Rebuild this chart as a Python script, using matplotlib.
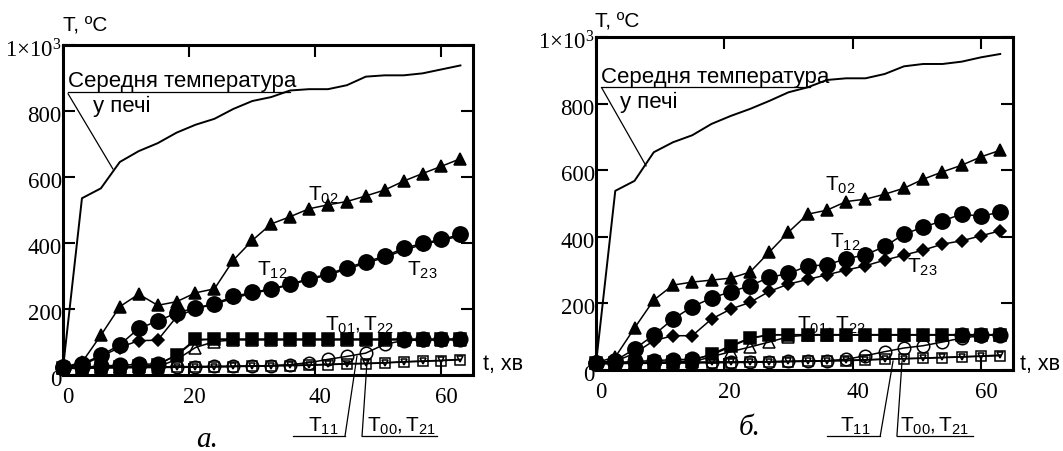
import matplotlib.pyplot as plt
from matplotlib.transforms import ScaledTranslation

plt.rcParams['font.family'] = 'Liberation Serif'
plt.rcParams['mathtext.fontset'] = 'custom'
plt.rcParams['mathtext.rm'] = 'Liberation Serif'
plt.rcParams['mathtext.sf'] = 'Liberation Sans'
plt.rcParams['mathtext.it'] = 'Liberation Serif:italic'

# time, min
t_min = [0, 3, 6, 9, 12, 15, 18, 21, 24, 27, 30, 33, 36, 39, 42, 45, 48, 51, 54, 57, 60, 63]

# --- panel a ---
furnace_a = [20, 535, 565, 645, 678, 702, 734, 758, 776, 806, 830, 842, 862, 866, 866, 878, 904, 908, 908, 914, 926, 938]
T02_a = [22, 37, 119, 206, 244, 210, 221, 248, 260, 347, 407, 457, 479, 503, 515, 525, 542, 560, 587, 610, 632, 655]
T12_a = [22, 32, 58, 90, 140, 162, 187, 202, 215, 237, 249, 260, 274, 291, 305, 324, 342, 359, 383, 398, 410, 425]
T23_a = [22, 28, 55, 82, 103, 104, 175, 200, 213, 232, 246, 258, 272, 288, 302, 320, 338, 355, 378, 394, 408, 420]
T01_a = [20, 22, 22, 24, 25, 28, 60, 107, 107, 107, 107, 107, 107, 107, 107, 107, 107, 107, 107, 107, 107, 107]
T20_a = [20, 22, 26, 28, 31, 32, 58, 104, 107, 107, 107, 107, 107, 107, 107, 107, 107, 107, 107, 107, 107, 107]
T10_a = [20, 21, 22, 22, 23, 24, 45, 82, 100, 105, 105, 105, 105, 105, 105, 105, 105, 105, 105, 105, 105, 105]
T11_a = [20, 21, 22, 22, 23, 23, 24, 24, 25, 25, 26, 27, 30, 36, 46, 55, 65, 92, 103, 105, 106, 107]
T00_a = [18, 19, 20, 20, 21, 21, 22, 22, 23, 24, 25, 26, 27, 28, 30, 32, 33, 35, 38, 40, 42, 45]
T21_a = [20, 20, 21, 22, 22, 23, 23, 24, 24, 25, 26, 27, 28, 29, 31, 33, 34, 36, 39, 41, 43, 46]

# --- panel b ---
furnace_b = [20, 538, 568, 654, 684, 705, 739, 763, 784, 808, 834, 849, 871, 876, 876, 889, 912, 919, 919, 926, 939, 949]
T02_b = [22, 39, 126, 210, 255, 264, 270, 276, 294, 354, 414, 468, 480, 506, 513, 528, 546, 573, 595, 615, 640, 660]
T12_b = [22, 28, 63, 105, 153, 190, 216, 235, 253, 278, 290, 312, 316, 334, 346, 371, 408, 429, 448, 468, 462, 474]
T23_b = [22, 26, 50, 88, 103, 103, 153, 183, 203, 236, 258, 272, 286, 300, 313, 330, 345, 360, 378, 388, 403, 418]
T01_b = [20, 22, 22, 23, 24, 28, 48, 73, 96, 106, 106, 106, 106, 106, 106, 106, 106, 106, 106, 106, 106, 106]
T20_b = [20, 22, 26, 28, 31, 32, 45, 70, 95, 105, 106, 106, 106, 106, 106, 106, 106, 106, 106, 106, 106, 106]
T10_b = [20, 21, 22, 22, 23, 24, 40, 55, 69, 84, 100, 105, 105, 105, 105, 105, 105, 105, 105, 105, 105, 105]
T11_b = [20, 21, 22, 22, 23, 23, 24, 24, 25, 25, 26, 27, 28, 32, 43, 55, 66, 73, 84, 96, 103, 107]
T00_b = [18, 19, 20, 20, 21, 21, 22, 22, 23, 24, 25, 26, 27, 28, 30, 32, 34, 35, 37, 39, 41, 43]
T21_b = [20, 20, 21, 22, 22, 23, 23, 24, 24, 25, 26, 27, 28, 29, 31, 33, 34, 36, 38, 40, 42, 45]

y_ticks = [0, 200, 400, 600, 800, 1000]
y_ticklabels = ['0', '200', '400', '600', '800', '1×10$^{3}$']
x_ticks = [0, 20, 40, 60]

SANS = 'Liberation Sans'

fig = plt.figure(figsize=(10.63, 4.52), dpi=100)
ax_a = fig.add_axes([0.0593, 0.1692, 0.3857, 0.729])
ax_b = fig.add_axes([0.5607, 0.1792, 0.3923, 0.7367])


def style_axes(ax):
    ax.set_xlim(0, 65)
    ax.set_ylim(0, 1000)
    ax.set_xticks(x_ticks)
    ax.set_yticks(y_ticks)
    ax.set_yticklabels(y_ticklabels)
    ax.tick_params(direction='in', length=8.5, width=1.5, top=True, right=True,
                   labelsize=16.5, pad=1)
    ax.tick_params(axis='x', pad=8)
    for s in ax.spines.values():
        s.set_linewidth(2.2)
    shift = ScaledTranslation(5 / 100, 0, fig.dpi_scale_trans)
    for lab in ax.get_xticklabels():
        lab.set_transform(lab.get_transform() + shift)
    down = ScaledTranslation(0, -2 / 100, fig.dpi_scale_trans)
    for lab in ax.get_yticklabels():
        lab.set_transform(lab.get_transform() + down)


def series(ax, y, marker, ms, filled=True, markevery=None, z=3):
    ax.plot(t_min, y, color='black', lw=1.1, marker=marker, ms=ms,
            mfc='black' if filled else 'none', mec='black', mew=1.1,
            markevery=markevery, clip_on=False, zorder=z)


def line(ax, xs, ys, lw=0.9):
    ax.plot(xs, ys, color='black', lw=lw, clip_on=False, zorder=6)


def draw_panel(ax, furnace, T02, T12, T23, T01, T20, T10, T11, T00, T21, end_circles):
    style_axes(ax)
    ax.plot(t_min, furnace, color='black', lw=1.4, clip_on=False, zorder=4)
    series(ax, T00, 's', 7, filled=False, z=3)
    series(ax, T21, 'v', 5, filled=False, z=3)
    series(ax, T11, 'o', 9, filled=False, z=3)
    series(ax, T10, '^', 8, filled=False, z=3)
    series(ax, T20, 'o', 10.5, markevery=[0, 1, 2, 3, 4, 5] + end_circles, z=4)
    series(ax, T01, 's', 8, z=4)
    series(ax, T23, 'D', 6.5, z=4)
    series(ax, T12, 'o', 11, z=5)
    series(ax, T02, '^', 9, z=5)


draw_panel(ax_a, furnace_a, T02_a, T12_a, T23_a, T01_a, T20_a, T10_a, T11_a, T00_a, T21_a,
           [18, 19, 20, 21])
draw_panel(ax_b, furnace_b, T02_b, T12_b, T23_b, T01_b, T20_b, T10_b, T11_b, T00_b, T21_b,
           [19, 20, 21])

lab_kw = dict(fontsize=15, va='baseline', ha='left', zorder=7)

# panel a annotations
ax_a.text(0.8, 875, 'Середня температура', family=SANS, fontsize=16, va='baseline', zorder=7)
line(ax_a, [0.8, 36], [858, 858])
ax_a.text(4.75, 800, 'у печі', family=SANS, fontsize=16, va='baseline', zorder=7)
line(ax_a, [0.8, 7.9], [852, 624])
ax_a.text(38.8, 530, r'$\mathsf{T_{02}}$', **lab_kw)
ax_a.text(30.7, 304, r'$\mathsf{T_{12}}$', **lab_kw)
ax_a.text(54.5, 304, r'$\mathsf{T_{23}}$', **lab_kw)
ax_a.text(41.5, 137, r'$\mathsf{T_{01},T_{22}}$', **lab_kw)
ax_a.text(38.8, -170, r'$\mathsf{T_{11}}$', **lab_kw)
line(ax_a, [36.5, 44.7], [-187, -187])
line(ax_a, [44.7, 46.6], [-187, 56])
ax_a.text(48.2, -170, r'$\mathsf{T_{00},T_{21}}$', **lab_kw)
line(ax_a, [47.4, 59.3], [-187, -187])
line(ax_a, [47.4, 48.2], [-187, 41])

# panel b annotations
ax_b.text(0.8, 865, 'Середня температура', family=SANS, fontsize=16, va='baseline', zorder=7)
line(ax_b, [0.8, 33.4], [851, 851])
ax_b.text(3.7, 790, 'у печі', family=SANS, fontsize=16, va='baseline', zorder=7)
line(ax_b, [0.9, 7.8], [847, 613])
ax_b.text(35.7, 542, r'$\mathsf{T_{02}}$', **lab_kw)
ax_b.text(36.5, 370, r'$\mathsf{T_{12}}$', **lab_kw)
ax_b.text(48.5, 295, r'$\mathsf{T_{23}}$', **lab_kw)
ax_b.text(31.3, 122, r'$\mathsf{T_{01},T_{22}}$', **lab_kw)
ax_b.text(38.0, -182, r'$\mathsf{T_{11}}$', **lab_kw)
line(ax_b, [36.0, 44.3], [-198, -198])
line(ax_b, [44.3, 46.3], [-198, 27])
ax_b.text(47.4, -182, r'$\mathsf{T_{00},T_{21}}$', **lab_kw)
line(ax_b, [46.9, 58.8], [-198, -198])
line(ax_b, [46.9, 47.7], [-198, 27])

# axis titles and captions
for x0, yT, xt in [(63, 32, 483), (595, 28, 1020)]:
    fig.text(x0 / 1063, 1 - yT / 452, 'T, ºC', family=SANS, fontsize=15, va='baseline')
    fig.text(xt / 1063, 1 - 365 / 452, 't, хв', family=SANS, fontsize=15.5, va='center')
fig.text(207 / 1063, 1 - 440 / 452, 'а.', style='italic', fontsize=21, ha='center', va='center')
fig.text(750 / 1063, 1 - 428 / 452, 'б.', style='italic', fontsize=21, ha='center', va='center')

fig.savefig('out.png', dpi=100)
